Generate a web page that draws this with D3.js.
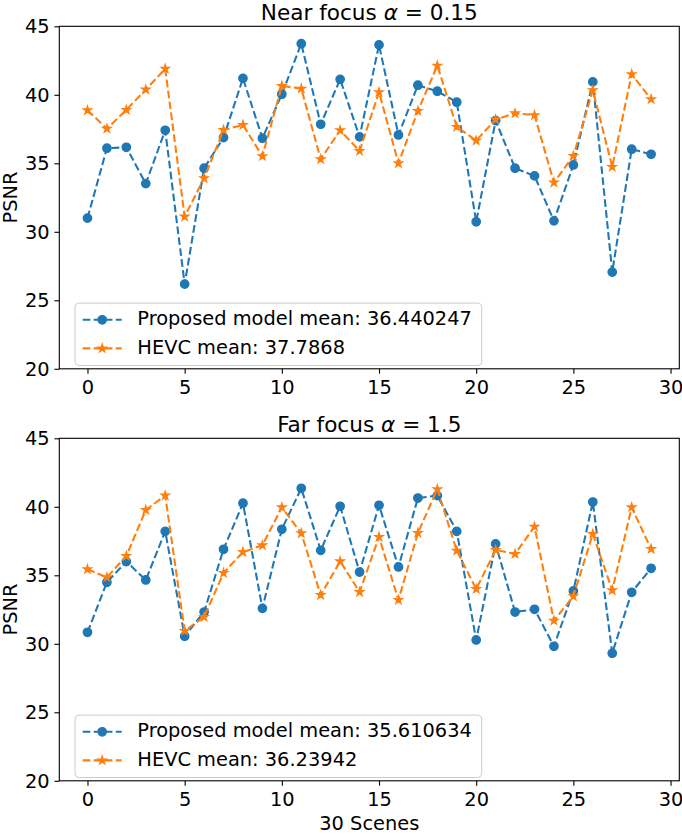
<!DOCTYPE html>
<html>
<head>
<meta charset="utf-8">
<script src="https://cdn.jsdelivr.net/npm/d3@7"></script>
<style>
  body { margin: 0; background: #fff; }
  text { font-family: "DejaVu Sans", sans-serif; fill: #000; }
</style>
</head>
<body>
<div id="chart"></div>
<script>
// scene index 0..29
const scenes = [0,1,2,3,4,5,6,7,8,9,10,11,12,13,14,15,16,17,18,19,20,21,22,23,24,25,26,27,28,29];

const nearProposed = [31.0,36.1,36.17,33.52,37.41,26.18,34.64,36.88,41.2,36.83,40.04,43.73,37.85,41.13,36.93,43.64,37.07,40.7,40.26,39.46,30.73,38.12,34.64,34.08,30.8,34.88,40.94,27.06,36.03,35.66];
const nearHevc = [38.87,37.53,38.9,40.38,41.9,31.11,33.91,37.43,37.8,35.52,40.65,40.45,35.3,37.41,35.9,40.19,35.0,38.82,42.13,37.66,36.66,38.2,38.65,38.51,33.6,35.54,40.33,34.74,41.5,39.68];
const farProposed = [30.84,34.49,36.0,34.66,38.21,30.55,32.32,36.9,40.26,32.59,38.36,41.35,36.82,40.04,35.24,40.11,35.61,40.64,40.82,38.21,30.28,37.29,32.32,32.52,29.82,33.86,40.35,29.31,33.76,35.51];
const farHevc = [35.44,34.85,36.41,39.77,40.82,30.94,31.96,35.17,36.7,37.19,39.96,38.07,33.56,36.02,33.78,37.8,33.2,38.09,41.28,36.8,34.0,36.85,36.56,38.55,31.69,33.47,38.02,33.91,39.96,36.92];

const titles = [["Near focus ", "α", " = 0.15"], ["Far focus ", "α", " = 1.5"]];
const nearLabels = ["Proposed model mean: 36.440247", "HEVC mean: 37.7868"];
const farLabels = ["Proposed model mean: 35.610634", "HEVC mean: 36.23942"];
const xTicks = [0, 5, 10, 15, 20, 25, 30];
const yTicks = [20, 25, 30, 35, 40, 45];

const W = 682, H = 834;
const left = 59.3, right = 679.3;
const panelTops = [26.3, 438.3];
const panelH = 342.5;
const fs = 19.4;
const tickLen = 4.86;
const colors = ["#1f77b4", "#ff7f0e"];

const svg = d3.select("#chart")
  .append("svg")
  .attr("width", W)
  .attr("height", H);

const x = d3.scaleLinear().domain([-1.45, 30.45]).range([0, right - left]);
const y = d3.scaleLinear().domain([20, 45]).range([panelH, 0]);

const star = d3.symbol().type(d3.symbolStar).size(19.5);

function drawPanel(top, title, proposed, hevc, labels) {
  const g = svg.append("g").attr("transform", `translate(${left},${top})`);

  // axes
  const xa = g.append("g")
    .attr("transform", `translate(0,${panelH})`)
    .call(d3.axisBottom(x).tickValues(xTicks).tickSize(tickLen).tickPadding(tickLen));
  xa.selectAll("text").attr("dy", "0.79em");

  const ya = g.append("g")
    .call(d3.axisLeft(y).tickValues(yTicks).tickSize(tickLen).tickPadding(tickLen));

  [xa, ya].forEach(a => {
    a.select(".domain").remove();
    a.selectAll("line").attr("stroke", "#000").attr("stroke-width", 1.1);
    a.selectAll("text").attr("font-size", fs).attr("font-family", "DejaVu Sans");
  });

  const series = [proposed, hevc];
  const line = d3.line().x((d, i) => x(scenes[i])).y(d => y(d));

  series.forEach((s, k) => {
    g.append("path")
      .attr("d", line(s))
      .attr("fill", "none")
      .attr("stroke", colors[k])
      .attr("stroke-width", 2.08)
      .attr("stroke-dasharray", "7.7,3.33");

    if (k === 0) {
      g.selectAll(null)
        .data(s)
        .join("circle")
        .attr("cx", (d, i) => x(scenes[i]))
        .attr("cy", d => y(d))
        .attr("r", 4.17)
        .attr("fill", colors[k])
        .attr("stroke", colors[k])
        .attr("stroke-width", 1.39);
    } else {
      g.selectAll(null)
        .data(s)
        .join("path")
        .attr("d", star)
        .attr("transform", (d, i) => `translate(${x(scenes[i])},${y(d)})`)
        .attr("fill", colors[k])
        .attr("stroke", colors[k])
        .attr("stroke-width", 1.39);
    }
  });

  // frame
  g.append("rect")
    .attr("width", right - left)
    .attr("height", panelH)
    .attr("fill", "none")
    .attr("stroke", "#000")
    .attr("stroke-width", 1.1);

  // title
  const t = g.append("text")
    .attr("x", (right - left) / 2)
    .attr("y", -6.6)
    .attr("text-anchor", "middle")
    .attr("font-size", 21.6);
  t.append("tspan").text(title[0]);
  t.append("tspan").attr("font-style", "italic").text(title[1]);
  t.append("tspan").text(title[2]);

  // y label
  g.append("text")
    .attr("transform", `translate(${16.5 - left},${panelH / 2}) rotate(-90)`)
    .attr("text-anchor", "middle")
    .attr("font-size", fs)
    .text("PSNR");

  // legend
  const lg = g.append("g").attr("transform", `translate(15.7,${panelH - 65.7})`);
  lg.append("rect")
    .attr("width", 406.7)
    .attr("height", 62.4)
    .attr("rx", 4)
    .attr("fill", "#fff")
    .attr("fill-opacity", 0.8)
    .attr("stroke", "#cccccc")
    .attr("stroke-width", 1);

  labels.forEach((lab, k) => {
    const ly = k === 0 ? 16.7 : 45.3;
    lg.append("line")
      .attr("x1", 7.7).attr("x2", 46.7)
      .attr("y1", ly).attr("y2", ly)
      .attr("stroke", colors[k])
      .attr("stroke-width", 2.08)
      .attr("stroke-dasharray", "7.7,3.33");
    if (k === 0) {
      lg.append("circle")
        .attr("cx", 27.2).attr("cy", ly).attr("r", 4.17)
        .attr("fill", colors[k]).attr("stroke", colors[k]).attr("stroke-width", 1.39);
    } else {
      lg.append("path")
        .attr("d", star)
        .attr("transform", `translate(27.2,${ly})`)
        .attr("fill", colors[k]).attr("stroke", colors[k]).attr("stroke-width", 1.39);
    }
    lg.append("text")
      .attr("x", 62.3)
      .attr("y", ly + 5.7)
      .attr("font-size", fs)
      .text(lab);
  });

  return g;
}

drawPanel(panelTops[0], titles[0], nearProposed, nearHevc, nearLabels);
const g2 = drawPanel(panelTops[1], titles[1], farProposed, farHevc, farLabels);

g2.append("text")
  .attr("x", (right - left) / 2)
  .attr("y", panelH + 49.5)
  .attr("text-anchor", "middle")
  .attr("font-size", fs)
  .text("30 Scenes");
</script>
</body>
</html>
